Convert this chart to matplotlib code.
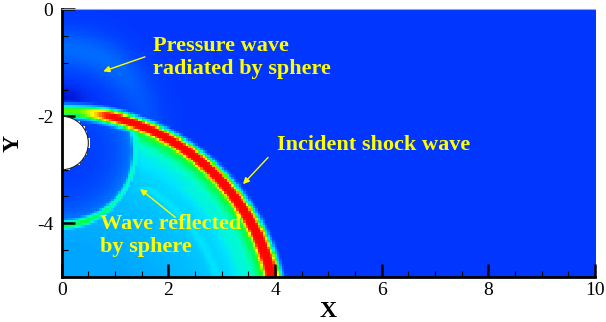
import numpy as np
import matplotlib
matplotlib.use("Agg")
import matplotlib.pyplot as plt
from matplotlib.colors import LinearSegmentedColormap
from matplotlib.patches import Wedge

plt.rcParams['font.family'] = ['Liberation Serif', 'DejaVu Serif']
plt.rcParams['axes.unicode_minus'] = False

# Domain and ticks
x_range = [0.0, 10.0]
y_range = [-5.0, 0.0]
x_major = [0, 2, 4, 6, 8, 10]
y_major = [0, -2, -4]

# Geometry of the sphere and of the waves (centre x, centre y, radius)
sphere = [0.0, -2.5, 0.5]
incident_shock = [0.0, -5.95, 4.05]
reflected_wave = [0.0, -2.65, 1.38]
radiated_wave = [0.0, -2.5, 1.75]

# Field levels (normalised pressure)
ambient_level = 0.10
shock_peak = [0.66, 0.99]          # near axis, away from axis
shock_half_width = [0.025, 0.055]  # top of arc, bottom of arc
post_shock_level = [0.31, 0.40]    # deep behind shock, just behind shock
reflected_peak = 0.50
reflected_inner = [0.10, 0.26]
radiated_peak = 0.10

# Colour scale: blue - cyan - green - yellow - red
cmap_stops = [0.0, 0.10, 0.30, 0.42, 0.50, 0.58, 0.66, 0.74, 0.80, 0.88, 0.95, 1.0]
cmap_colors = ['#0000be', '#0038ff', '#00a0ff', '#00e6ff', '#00ffc8', '#00ff50',
               '#50ff00', '#c8ff00', '#ffff00', '#ff8000', '#ff1e00', '#ff0000']
cmap = LinearSegmentedColormap.from_list('rainbow_flow', list(zip(cmap_stops, cmap_colors)))

# Build the field on a grid
dx = 0.045
xs = np.arange(x_range[0], x_range[1] + dx, dx)
ys = np.arange(y_range[0], y_range[1] + dx, dx)
X, Y = np.meshgrid(xs, ys)

def smoothstep(a, b, v):
    t = np.clip((v - a) / (b - a), 0, 1)
    return t * t * (3 - 2 * t)

cx, cy, R = incident_shock
rs = np.hypot(X - cx, Y - cy)
d = rs - R
ang = np.arctan2(X - cx, Y - cy)
frac = np.clip(ang / 1.33, 0, 1)
h = shock_half_width[0] + (shock_half_width[1] - shock_half_width[0]) * frac
amp = shock_peak[0] + (shock_peak[1] - shock_peak[0]) * smoothstep(0.25, 1.0, X)
# flat-topped front with soft yellow/green flanks
w_out = 0.11 + 0.03 * frac
w_in = 0.13 + 0.04 * frac
outer = np.exp(-(np.maximum(d - h, 0) / w_out) ** 2)
inner_edge = np.exp(-(np.maximum(-d - h, 0) / w_in) ** 2)
core = amp * np.where(d >= 0, outer, inner_edge)

post = (post_shock_level[0]
        + (post_shock_level[1] - post_shock_level[0]) * np.clip((d + 2.5) / 2.5, 0, 1)
        + 0.32 * np.exp(np.minimum(d + h, 0) / 0.3))

rx, ry, rR = reflected_wave
rw = np.hypot(X - rx, Y - ry) - rR
inner = reflected_inner[0] + (reflected_inner[1] - reflected_inner[0]) * np.exp(np.minimum(rw, 0) / 0.35)
blend = 1 / (1 + np.exp(-rw / 0.03))
behind = blend * post + (1 - blend) * inner
ridge_amp = reflected_peak + 0.10 * smoothstep(-3.4, -4.1, Y) + 0.06 * smoothstep(-2.3, -1.9, Y)
ridge_w = 0.09 + 0.03 * smoothstep(-3.4, -4.1, Y)
ridge = ridge_amp * np.exp(-(rw / ridge_w) ** 2)
behind = np.maximum(behind, ridge)

# faint secondary rings behind the shock
for rad, a in [(3.05, 0.04), (3.5, 0.03)]:
    behind += a * np.exp(-((rs - rad) / 0.08) ** 2) * (Y < -3.3)

px, py, pR = radiated_wave
rr = np.hypot(X - px, Y - py)
ahead = (ambient_level
         + radiated_peak * np.exp(-((rr - pR) / 0.38) ** 2) * np.exp(-(np.maximum(X - 0.8, 0) / 1.0) ** 2)
         - 0.07 * np.exp(-(X / 0.4) ** 2 - ((Y + 1.7) / 0.25) ** 2))

field = np.where(d < 0, behind, ahead)
field = np.maximum(field, core)
sx, sy, sR = sphere
field = np.where(np.hypot(X - sx, Y - sy) < sR, np.nan, field)

fig = plt.figure(figsize=(6.06, 3.22), dpi=100)
ax = fig.add_axes([0.1018, 0.1407, 0.8800, 0.8304])
ax.imshow(field, origin='lower', extent=[xs[0] - dx / 2, xs[-1] + dx / 2, ys[0] - dx / 2, ys[-1] + dx / 2],
          cmap=cmap, vmin=0, vmax=1, interpolation='nearest', aspect='auto', zorder=1)
ax.add_patch(Wedge((sx, sy), sR, -90, 90, facecolor='white', edgecolor='#202020', lw=0.8, zorder=2))
ax.set_xlim(x_range)
ax.set_ylim(y_range)

# Axes frame
for side in ['left', 'bottom']:
    ax.spines[side].set_linewidth(2.0)
    ax.spines[side].set_color('black')
ax.spines['top'].set_linewidth(0.8)
ax.spines['top'].set_color('#a8a8a8')
ax.spines['right'].set_visible(False)
for s in ax.spines.values():
    s.set_zorder(5)

ax.set_xticks(x_major)
ax.set_yticks(y_major)
ax.set_xticks(np.arange(0, 10.01, 0.5), minor=True)
ax.set_yticks(np.arange(-5, 0.01, 0.5), minor=True)
ax.tick_params(which='major', direction='in', length=9.5, width=1.8, labelsize=14, pad=4,
               top=False, right=False)
ax.tick_params(which='minor', direction='in', length=4.3, width=0.8, top=False, right=False)
ax.tick_params(axis='y', which='major', pad=6)

ax.set_xlabel('X', fontsize=17, fontweight='bold')
ax.set_ylabel('Y', fontsize=17, fontweight='bold')
ax.xaxis.set_label_coords(0.5, -0.09)
ax.yaxis.set_label_coords(-0.072, 0.5)

# Annotations
txt = dict(color='#ffff00', fontsize=16, fontweight='bold', ha='left', va='center', zorder=6)
arr = dict(arrowstyle='-|>', color='#ffff00', lw=1.0, mutation_scale=9, shrinkA=0, shrinkB=0)
ax.text(1.71, -0.90, 'Pressure wave\nradiated by sphere', **txt)
ax.annotate('', xy=(0.78, -1.16), xytext=(1.56, -0.89), arrowprops=arr)
ax.text(4.04, -2.53, 'Incident shock wave', **txt)
ax.annotate('', xy=(3.40, -3.27), xytext=(3.87, -2.77), arrowprops=arr)
ax.text(0.72, -4.23, 'Wave reflected\nby sphere', **txt)
ax.annotate('', xy=(1.47, -3.36), xytext=(2.13, -3.89), arrowprops=arr)

fig.savefig('out.png', dpi=100)
